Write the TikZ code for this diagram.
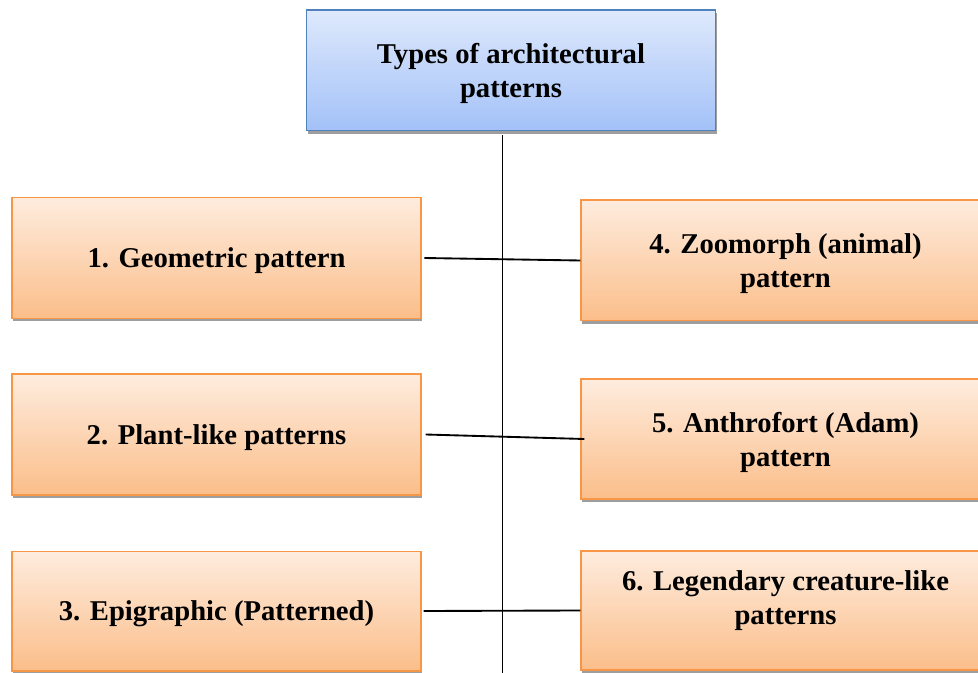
\documentclass[tikz,border=0pt]{standalone}
\usepackage{fontspec}
\setmainfont{Liberation Serif}
\usetikzlibrary{shadows}
\definecolor{boxblue}{RGB}{79,129,189}
\definecolor{blueTop}{RGB}{222,233,252}
\definecolor{blueBot}{RGB}{163,193,248}
\definecolor{boxorange}{RGB}{247,150,70}
\definecolor{orangeTop}{RGB}{254,236,222}
\definecolor{orangeBot}{RGB}{251,190,138}
\tikzset{
  patbox/.style={draw=boxorange, line width=1pt, top color=orangeTop, bottom color=orangeBot,
    minimum width=306.75pt, minimum height=90.5pt, align=center, inner sep=0pt, text depth=0pt,
    font=\fontsize{21.5}{25.5}\selectfont\bfseries,
    drop shadow={shadow xshift=0.8pt, shadow yshift=-2.2pt, fill=black!38, opacity=1}},
  headbox/.style={patbox, draw=boxblue, top color=blueTop, bottom color=blueBot},
  link/.style={line width=1.4pt}
}
\begin{document}
\begin{tikzpicture}[x=0.75pt,y=0.75pt,yscale=-1,xscale=1]
            \clip (0,0) rectangle (978,673);
            \node [headbox] (head) at (511,70.5) {Types of architectural\\patterns};
            \node [patbox] (geo) at (216.5,258) {1. Geometric pattern};
            \node [patbox] (plant) at (216.5,434.5) {2. Plant-like patterns};
            \node [patbox, minimum height=89.75pt] (epi) at (216.5,611) {3. Epigraphic (Patterned)};
            \node [patbox] (zoo) at (785.5,260.5) {4. Zoomorph (animal)\\pattern};
            \node [patbox, minimum height=89.75pt] (anthro) at (785.5,439) {5. Anthrofort (Adam)\\pattern};
            \node [patbox, minimum height=89.25pt] (legend) at (785.5,610.5) {6. Legendary creature-like\\patterns\\[-6pt]\mbox{}};
            \coordinate (bottom) at (502.5,673);
            \draw [link] ([yshift=3pt]head.south -| bottom) -- (bottom) ;
            \draw [link] ([xshift=2pt]geo.east) -- (zoo.west) ;
            \draw [link] ([xshift=3pt]plant.east) -- ([xshift=3pt]anthro.west) ;
            \draw [link] ([xshift=1.5pt]epi.east) -- (legend.west) ;
        \end{tikzpicture}
\end{document}
